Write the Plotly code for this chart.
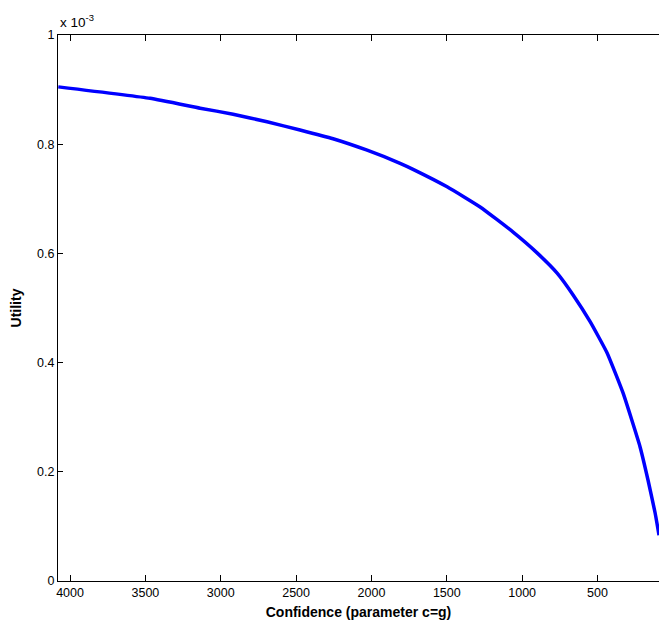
import plotly.graph_objects as go

# Confidence (parameter c=g) and utility (in units of 1e-3)
confidence = [4078, 3469, 3137, 2918, 2693, 2474, 2255, 2029, 1810, 1724, 1498, 1279, 1060, 901, 768, 662, 549, 437, 330, 218, 165, 118, 92]
utility_e3 = [0.905, 0.884, 0.866, 0.855, 0.841, 0.826, 0.810, 0.789, 0.765, 0.754, 0.722, 0.685, 0.639, 0.601, 0.564, 0.524, 0.475, 0.418, 0.344, 0.246, 0.185, 0.125, 0.084]

x_ticks = [4000, 3500, 3000, 2500, 2000, 1500, 1000, 500]
y_ticks = [0, 0.2, 0.4, 0.6, 0.8, 1]
y_tick_labels = ["0", "0.2", "0.4", "0.6", "0.8", "1"]

utility = [v * 1e-3 for v in utility_e3]

fig = go.Figure()
fig.add_trace(go.Scatter(
    x=confidence, y=utility, mode="lines",
    line=dict(color="#0000ff", width=3.5, shape="spline", smoothing=0.4),
    showlegend=False, hoverinfo="skip",
))

font = dict(family="Liberation Sans, Arial, sans-serif", size=13, color="black")

fig.update_layout(
    width=659, height=631,
    margin=dict(l=58, r=0, t=35, b=50),
    paper_bgcolor="white", plot_bgcolor="white",
    font=font,
    xaxis=dict(
        range=[4080, 92], tickvals=x_ticks, ticktext=[str(v) for v in x_ticks],
        ticks="inside", ticklen=6, tickcolor="black", tickwidth=1,
        showline=True, linecolor="black", linewidth=1, mirror="ticks",
        showgrid=False, zeroline=False,
        title=dict(text="<b>Confidence (parameter c=g)</b>", font=dict(size=14), standoff=8),
        tickfont=dict(size=12.5),
    ),
    yaxis=dict(
        range=[0, 1e-3], tickvals=[v * 1e-3 for v in y_ticks], ticktext=y_tick_labels,
        ticks="inside", ticklen=5, tickcolor="black", tickwidth=1,
        showline=True, linecolor="black", linewidth=1, mirror=False,
        showgrid=False, zeroline=False,
        title=dict(text="<b>Utility</b>", font=dict(size=14), standoff=12),
        tickfont=dict(size=12.5),
    ),
    annotations=[dict(
        text="x 10<sup>-3</sup>", xref="paper", yref="paper", x=0, y=1,
        xanchor="left", yanchor="bottom", showarrow=False, yshift=3,
        font=dict(size=13.5),
    )],
)

fig.write_html(
    "out.html",
    config={"displayModeBar": False},
    post_script="document.body.style.margin='0';document.body.style.overflow='hidden';",
)
